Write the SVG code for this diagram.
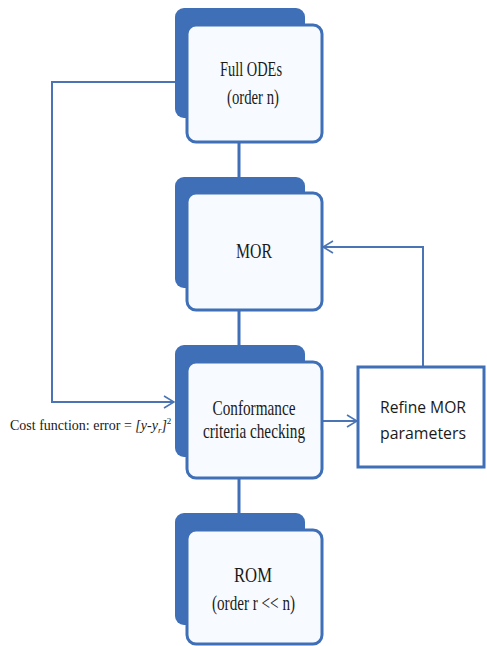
<svg xmlns="http://www.w3.org/2000/svg" width="487" height="646" viewBox="0 0 487 646">
<defs>
<style>
.back{fill:#3f6fb6;}
.front{fill:#f7fafe;stroke:#3f6fb6;stroke-width:3;}
.t{font-family:"Liberation Serif","Times New Roman",serif;font-size:21px;fill:#1a1a1a;text-anchor:middle;}
.s{font-family:"Open Sans","Liberation Sans",sans-serif;font-size:17px;fill:#1a1a1a;text-anchor:middle;}
.c{fill:none;stroke:#4a74b4;stroke-width:2;}
.k{fill:none;stroke:#3f6fb6;stroke-width:3;}
</style>
<marker id="ah" viewBox="0 0 12 14" refX="11" refY="7" markerWidth="12" markerHeight="14" markerUnits="userSpaceOnUse" orient="auto">
<path d="M1,1 L11,7 L1,13" fill="none" stroke="#4a74b4" stroke-width="1.6"/>
</marker>
</defs>
<rect width="487" height="646" fill="#ffffff"/>
<g id="connectors">
<line class="k" x1="239" y1="142" x2="239" y2="178"/>
<line class="k" x1="239" y1="310" x2="239" y2="345"/>
<line class="k" x1="239" y1="478" x2="239" y2="513"/>
<polyline class="c" points="175,82 52,82 52,402 174,402" marker-end="url(#ah)"/>
<line class="c" x1="322" y1="421" x2="357" y2="421" marker-end="url(#ah)"/>
<polyline class="c" points="423,366 423,247 323,247" marker-end="url(#ah)"/>
</g>
<g id="full-odes">
<rect class="back" x="175" y="8" width="130" height="110" rx="9"/>
<rect class="front" x="187" y="25" width="135" height="117" rx="9"/>
<text class="t" x="251" y="76" textLength="62" lengthAdjust="spacingAndGlyphs">Full ODEs</text>
<text class="t" x="253" y="104" textLength="52" lengthAdjust="spacingAndGlyphs">(order n)</text>
</g>
<g id="mor">
<rect class="back" x="175" y="177" width="130" height="111" rx="9"/>
<rect class="front" x="187" y="193" width="135" height="117" rx="9"/>
<text class="t" x="254" y="258" textLength="36" lengthAdjust="spacingAndGlyphs">MOR</text>
</g>
<g id="conformance">
<rect class="back" x="175" y="345" width="130" height="112" rx="9"/>
<rect class="front" x="187" y="362" width="135" height="116" rx="9"/>
<text class="t" x="254" y="415" textLength="83" lengthAdjust="spacingAndGlyphs">Conformance</text>
<text class="t" x="254" y="438" textLength="102" lengthAdjust="spacingAndGlyphs">criteria checking</text>
</g>
<g id="refine">
<rect x="358" y="367" width="126" height="100" fill="#ffffff" stroke="#3f6fb6" stroke-width="3"/>
<text class="s" x="423" y="413" textLength="86" lengthAdjust="spacingAndGlyphs">Refine MOR</text>
<text class="s" x="423" y="439" textLength="86" lengthAdjust="spacingAndGlyphs">parameters</text>
</g>
<g id="rom">
<rect class="back" x="175" y="513" width="130" height="112" rx="9"/>
<rect class="front" x="187" y="530" width="135" height="114" rx="9"/>
<text class="t" x="253" y="582" textLength="38" lengthAdjust="spacingAndGlyphs">ROM</text>
<text class="t" x="253.5" y="610" textLength="83" lengthAdjust="spacingAndGlyphs">(order r &lt;&lt; n)</text>
</g>
<g id="cost-label">
<text x="10" y="430" style="font-family:'Liberation Serif','Times New Roman',serif;font-size:14px;fill:#1a1a1a;">Cost function: error = <tspan font-style="italic">[y-y</tspan><tspan font-style="italic" font-size="9" dy="3">r</tspan><tspan font-style="italic" dy="-3">]</tspan><tspan font-size="9" dy="-6">2</tspan></text>
</g>
</svg>
